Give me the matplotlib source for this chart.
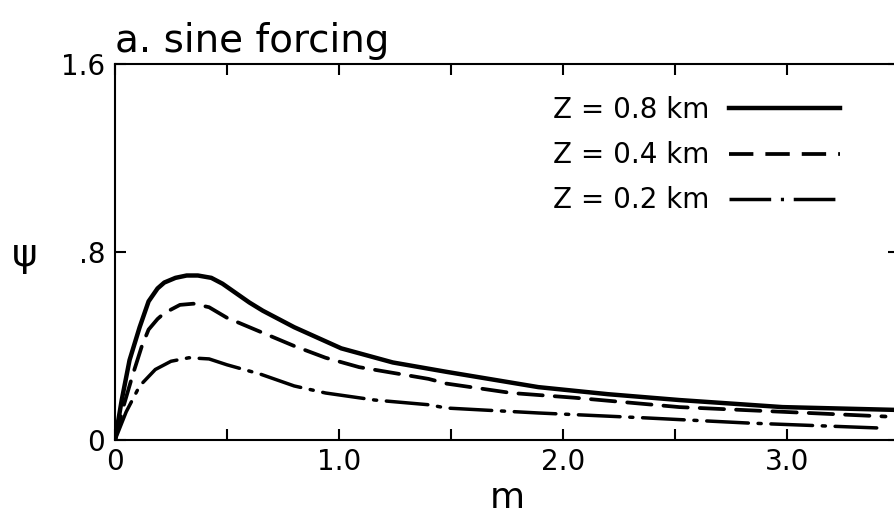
import matplotlib
matplotlib.use("Agg")
import matplotlib.pyplot as plt
from matplotlib.lines import Line2D

# ---- data ----
m_08 = [0, 0.03, 0.065, 0.11, 0.15, 0.19, 0.22, 0.27, 0.32, 0.37, 0.43, 0.48, 0.54, 0.60, 0.66, 0.80, 1.01, 1.24, 1.48, 1.89, 2.20, 2.52, 2.98, 3.49]
psi_08 = [0, 0.17, 0.34, 0.48, 0.59, 0.645, 0.67, 0.69, 0.70, 0.70, 0.69, 0.665, 0.625, 0.585, 0.55, 0.48, 0.39, 0.33, 0.29, 0.225, 0.195, 0.17, 0.14, 0.128]

m_04 = [0, 0.04, 0.08, 0.12, 0.15, 0.19, 0.22, 0.29, 0.35, 0.42, 0.50, 0.65, 0.80, 0.94, 1.09, 1.40, 1.48, 1.77, 2.05, 2.52, 2.98, 3.44]
psi_04 = [0, 0.15, 0.28, 0.40, 0.47, 0.515, 0.54, 0.575, 0.58, 0.565, 0.52, 0.46, 0.40, 0.35, 0.31, 0.26, 0.24, 0.20, 0.18, 0.14, 0.12, 0.10]

m_02 = [0, 0.05, 0.11, 0.18, 0.25, 0.33, 0.42, 0.50, 0.65, 0.80, 0.94, 1.16, 1.40, 1.48, 1.89, 2.37, 2.83, 3.30, 3.44]
psi_02 = [0, 0.12, 0.23, 0.30, 0.335, 0.35, 0.345, 0.32, 0.28, 0.23, 0.20, 0.17, 0.15, 0.136, 0.115, 0.094, 0.072, 0.055, 0.05]

series_labels = ["Z = 0.8 km", "Z = 0.4 km", "Z = 0.2 km"]
x_ticks = [0, 0.5, 1.0, 1.5, 2.0, 2.5, 3.0]
x_tick_labels = ["0", "", "1.0", "", "2.0", "", "3.0"]
y_ticks = [0, 0.8, 1.6]
y_tick_labels = ["0", ".8", "1.6"]
title = "a. sine forcing"
xlabel = "m"
ylabel = "ψ"

# ---- figure ----
W, H = 895, 520
fig = plt.figure(figsize=(W / 100, H / 100), dpi=100)
px_per_unit = 224.0
x0_px, y0_px, ytop_px = 115, 440, 64
xmax = 3.5
ax = fig.add_axes([x0_px / W, (H - y0_px) / H, xmax * px_per_unit / W, (y0_px - ytop_px) / H])

styles = [
    dict(color="black", lw=3.2, linestyle="-"),
    dict(color="black", lw=2.7, linestyle=(0, (6.5, 3.2))),
    dict(color="black", lw=2.5, linestyle=(0, (12, 2.8, 0.9, 2.8))),
]
for (mx, py), st in zip([(m_08, psi_08), (m_04, psi_04), (m_02, psi_02)], styles):
    ax.plot(mx, py, solid_capstyle="round", dash_capstyle="round", **st)

ax.set_xlim(0, xmax)
ax.set_ylim(0, 1.6)
ax.set_xticks(x_ticks)
ax.set_xticklabels(x_tick_labels)
ax.set_yticks(y_ticks)
ax.set_yticklabels(y_tick_labels)
for s in ax.spines.values():
    s.set_linewidth(1.5)
ax.tick_params(axis="both", direction="in", top=True, right=True, length=8, width=1.5, labelsize=20)
ax.tick_params(axis="x", pad=6)
ax.tick_params(axis="y", pad=7)

fig.text(115 / W, 1 - 52 / H, title, fontsize=28, ha="left", va="baseline")

fig.text(507 / W, 1 - 498 / H, xlabel, fontsize=26, ha="center", va="center")
fig.text(25 / W, 1 - 255 / H, ylabel, fontsize=28, ha="center", va="center")

handles = [Line2D([], [], **st) for st in styles]
ax.legend(handles, series_labels, markerfirst=False, frameon=False, fontsize=20,
          handlelength=4.0, handletextpad=0.7, labelspacing=0.62,
          loc="upper right", bbox_to_anchor=(840 / W, 1 - 96 / H),
          bbox_transform=fig.transFigure, borderaxespad=0, borderpad=0)

fig.savefig("out.png", dpi=100)
